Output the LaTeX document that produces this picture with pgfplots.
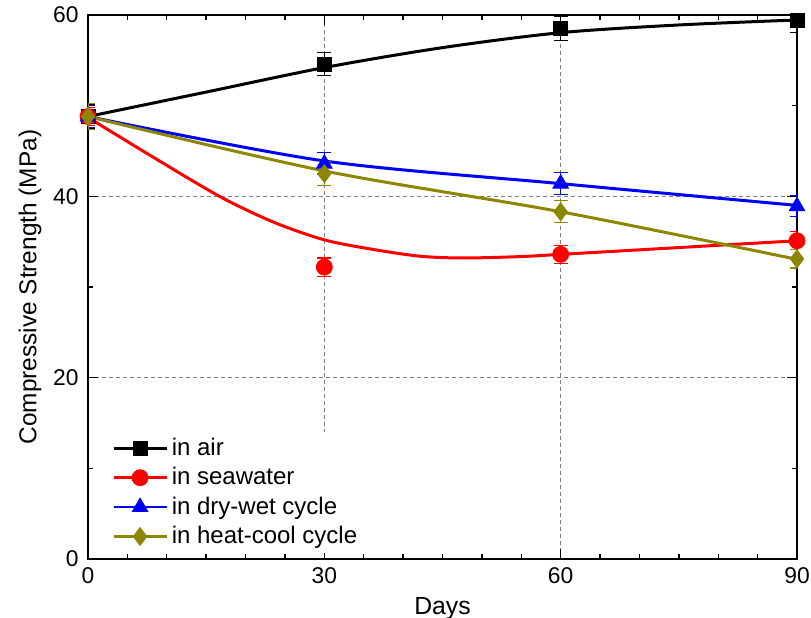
\documentclass[border=0pt]{standalone}
\usepackage{pgfplots}
\pgfplotsset{compat=1.18}
\usepackage{fontspec}
\setmainfont{Liberation Sans}
\begin{document}
\begin{tikzpicture}
\begin{axis}[
    scale only axis, width=354.5pt, height=272pt,
    xmin=0, xmax=90, ymin=0, ymax=60,
    xtick={0,30,60,90}, ytick={0,20,40,60},
    minor x tick num=5, minor y tick num=1,
    tick align=inside, major tick length=5pt, minor tick length=2.5pt,
    every tick/.style={black, line width=0.7pt},
    axis line style={line width=1pt},
    grid=major, major grid style={gray, line width=0.4pt, dash pattern=on 2pt off 1.5pt},
    /pgf/number format/assume math mode=true,
    tick label style={font=\fontsize{11.4}{13}\selectfont},
    xticklabel style={inner xsep=0pt, yshift=-0.7pt},
    yticklabel style={xshift=-1.2pt},
    xlabel style={font=\fontsize{12.4}{14}\selectfont},
    ylabel style={font=\fontsize{12.2}{14}\selectfont},
    ylabel shift=-1pt,
    xlabel={Days}, ylabel={Compressive Strength (MPa)},
    legend style={at={(rel axis cs:0.031,0.234)}, anchor=north west, draw=none, fill=white,
        font=\fontsize{12}{14}\selectfont, row sep=0.5pt, inner sep=1pt},
    legend cell align=left,
    legend image code/.code={\draw[mark repeat=2,mark phase=2,#1] plot coordinates {(0pt,0pt) (13.25pt,0pt) (26.5pt,0pt)};},
    error bars/error bar style={line width=0.6pt},
    error bars/error mark options={rotate=90, mark size=3.5pt, line width=0.6pt},
]

% fitted curves
\addplot[black, line width=1.5pt, smooth, forget plot] coordinates {
    (0,48.8) (15,51.5) (30,54.2) (45,56.4) (60,58.05) (75,58.9) (90,59.45)};
\addplot[red, line width=1.5pt, smooth, forget plot] coordinates {
    (0,48.7) (8.5,44.2) (16.9,39.9) (23.7,37.1) (30,35.2) (35.8,34.2) (42.1,33.4)
    (47.6,33.2) (54.8,33.35) (60,33.6) (75,34.35) (90,35.1)};
\addplot[blue, line width=1.5pt, smooth, forget plot] coordinates {
    (0,48.8) (30,43.9) (60,41.4) (90,39.0)};
\addplot[olive, line width=1.5pt, smooth, forget plot] coordinates {
    (0,48.8) (30,42.8) (60,38.3) (90,33.05)};

% measured values
\addplot[black, only marks, mark=square*, mark size=3.5pt, forget plot,
    error bars/.cd, y dir=both, y explicit] coordinates {
    (0,48.8) +- (0,1.3) (30,54.6) +- (0,1.25) (60,58.5) +- (0,1.3) (90,59.4) +- (0,1.3)};
\addplot[red, only marks, mark=*, mark size=4pt, forget plot,
    error bars/.cd, y dir=both, y explicit] coordinates {
    (0,48.8) +- (0,1.0) (30,32.2) +- (0,1.0) (60,33.6) +- (0,1.0) (90,35.1) +- (0,1.0)};
\addplot[blue, only marks, mark=triangle*, mark size=4.5pt, forget plot,
    error bars/.cd, y dir=both, y explicit] coordinates {
    (0,48.8) +- (0,1.2) (30,43.6) +- (0,1.2) (60,41.4) +- (0,1.2) (90,38.9) +- (0,1.15)};
\addplot[olive, only marks, mark=diamond*, mark size=4.5pt, forget plot,
    error bars/.cd, y dir=both, y explicit] coordinates {
    (0,48.8) +- (0,1.4) (30,42.5) +- (0,1.3) (60,38.3) +- (0,1.2) (90,33.1) +- (0,1.0)};

\addlegendimage{black, line width=1.2pt, mark=square*, mark size=3.5pt, mark options={line width=0.4pt}}
\addlegendentry{in air}
\addlegendimage{red, line width=1.2pt, mark=*, mark size=4pt, mark options={line width=0.4pt}}
\addlegendentry{in seawater}
\addlegendimage{blue, line width=1.2pt, mark=triangle*, mark size=4.5pt, mark options={line width=0.4pt}}
\addlegendentry{in dry-wet cycle}
\addlegendimage{olive, line width=1.2pt, mark=diamond*, mark size=4.5pt, mark options={line width=0.4pt}}
\addlegendentry{in heat-cool cycle}
\end{axis}
\pgfresetboundingbox
\path ([shift={(-44pt,-29pt)}]current axis.south west) rectangle ([shift={(7pt,7.5pt)}]current axis.north east);
\end{tikzpicture}
\end{document}
